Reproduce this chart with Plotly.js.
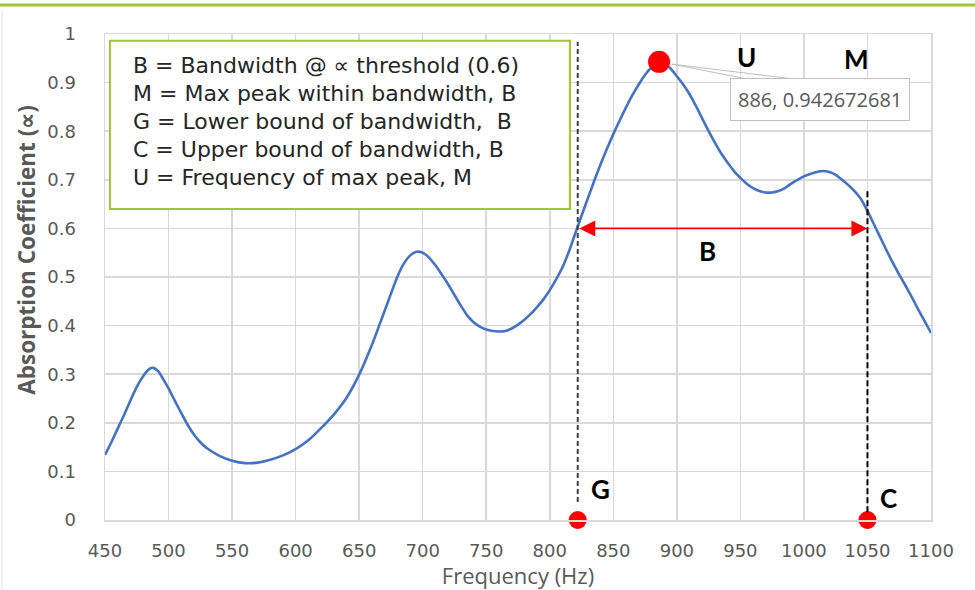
<!DOCTYPE html>
<html>
<head>
<meta charset="utf-8">
<script src="https://cdn.plot.ly/plotly-3.0.1.min.js"></script>
<style>html,body{margin:0;padding:0;background:#fff;}#chart{width:975px;height:590px;}</style>
</head>
<body>
<div id="chart"></div>
<script>
// Absorption coefficient curve
const frequency = [450,455,460,465,470,475,480,485,488,492,496,500,505,510,515,520,525,530,540,550,560,570,580,590,600,610,620,630,640,650,660,670,680,685,690,695,700,705,710,715,720,725,730,735,740,745,750,755,760,765,770,775,780,785,790,795,800,805,810,815,820,825,830,835,840,845,850,855,860,865,870,875,880,886,890,895,900,905,910,915,920,925,930,935,940,945,950,955,960,965,970,975,980,985,990,995,1000,1005,1010,1015,1020,1025,1030,1035,1040,1045,1050,1055,1060,1065,1070,1075,1080,1085,1090,1095,1100];
const absorption = [0.134,0.160,0.188,0.216,0.246,0.274,0.296,0.311,0.313,0.306,0.289,0.271,0.245,0.220,0.196,0.176,0.160,0.148,0.132,0.122,0.117,0.118,0.124,0.133,0.146,0.164,0.189,0.217,0.251,0.299,0.360,0.430,0.500,0.527,0.544,0.552,0.550,0.540,0.524,0.505,0.485,0.463,0.441,0.421,0.407,0.398,0.392,0.389,0.388,0.389,0.394,0.402,0.412,0.424,0.438,0.454,0.473,0.495,0.520,0.552,0.589,0.626,0.662,0.698,0.732,0.764,0.794,0.822,0.849,0.874,0.896,0.916,0.931,0.942672681,0.939,0.929,0.913,0.896,0.876,0.852,0.826,0.800,0.776,0.754,0.735,0.718,0.704,0.692,0.683,0.677,0.674,0.674,0.677,0.683,0.692,0.700,0.707,0.712,0.716,0.718,0.716,0.710,0.700,0.689,0.676,0.660,0.636,0.609,0.582,0.555,0.529,0.505,0.482,0.458,0.433,0.409,0.385];

const threshold = 0.6;          // alpha threshold
const lowerBoundG = 822;        // G
const upperBoundC = 1050;       // C
const peakFreqU = 886;          // U
const peakValueM = 0.942672681; // M

const xTickVals = [450,500,550,600,650,700,750,800,850,900,950,1000,1050,1100];
const yTickVals = [0,0.1,0.2,0.3,0.4,0.5,0.6,0.7,0.8,0.9,1];
const yTickText = ['0','0.1','0.2','0.3','0.4','0.5','0.6','0.7','0.8','0.9','1'];

const legendLines = [
  'B = Bandwidth @ \u221D threshold (0.6)',
  'M = Max peak within bandwidth, B',
  'G = Lower bound of bandwidth,  B',
  'C = Upper bound of bandwidth, B',
  'U = Frequency of max peak, M'
];

const gray = '#595959';
const grid = '#d9d9d9';
const green = '#9dc82f';

const traces = [
  {x: frequency, y: absorption, type: 'scatter', mode: 'lines',
   line: {color: '#4472C4', width: 2.6, shape: 'spline', smoothing: 0.6}, hoverinfo: 'x+y'},
  {x: [peakFreqU], y: [peakValueM], type: 'scatter', mode: 'markers',
   marker: {color: '#FF0000', size: 22}},
  {x: [lowerBoundG, upperBoundC], y: [0, 0], type: 'scatter', mode: 'markers',
   marker: {color: '#FF0000', size: 18}, cliponaxis: false}
];

const annotations = [];
// legend box text
legendLines.forEach((t, i) => {
  annotations.push({x: 470.5, y: (520 - (65 + i * 28)) / 486, xref: 'x', yref: 'y',
    text: t, showarrow: false, xanchor: 'left', yanchor: 'middle',
    font: {family: 'DejaVu Sans', size: 22, color: '#262626'}});
});
// bandwidth arrow
annotations.push({x: upperBoundC, y: threshold, ax: lowerBoundG, ay: threshold,
  xref: 'x', yref: 'y', axref: 'x', ayref: 'y', text: '', showarrow: true,
  arrowside: 'end+start', arrowhead: 2, arrowsize: 2, arrowwidth: 1.6, arrowcolor: '#FF0000', standoff: 0, startstandoff: 0});
// peak data label
annotations.push({x: 1012.6, y: 0.866, xref: 'x', yref: 'y', text: peakFreqU + ', ' + peakValueM,
  showarrow: false, bgcolor: '#ffffff', bordercolor: '#bfbfbf', borderwidth: 1, borderpad: 7,
  font: {family: 'Open Sans', size: 20, color: gray}});
// letters
const bold = {family: 'Lato', size: 26, color: '#000000', weight: 'bold'};
annotations.push({x: 955.2, y: 0.953, xref: 'x', yref: 'y', text: '<b>U</b>', showarrow: false, font: bold});
annotations.push({x: 1041, y: 0.949, xref: 'x', yref: 'y', text: '<b>M</b>', showarrow: false, font: bold});
annotations.push({x: 924.5, y: 0.553, xref: 'x', yref: 'y', text: '<b>B</b>', showarrow: false, font: bold});
annotations.push({x: 840.3, y: 0.064, xref: 'x', yref: 'y', text: '<b>G</b>', showarrow: false, font: bold});
annotations.push({x: 1066.2, y: 0.045, xref: 'x', yref: 'y', text: '<b>C</b>', showarrow: false, font: bold});
// y-axis title (placed like the reference, slightly above centre)
annotations.push({x: -0.095, y: 0.555, xref: 'paper', yref: 'paper', text: '<b>Absorption Coefficient (\u221D)</b>',
  textangle: -90, showarrow: false, xanchor: 'center', yanchor: 'middle',
  font: {family: 'Open Sans', size: 22.5, color: gray}});

const shapes = [
  // top green rule
  {type: 'line', xref: 'paper', yref: 'paper', x0: -0.13, x1: 1.06, y0: 1.0597, y1: 1.0597,
   line: {color: green, width: 3}},
  // faint left border
  {type: 'line', xref: 'paper', yref: 'paper', x0: -0.1247, x1: -0.1247, y0: 1.05, y1: -0.15,
   line: {color: '#e3e3e3', width: 1}},
  // legend box
  {type: 'rect', xref: 'x', yref: 'y', x0: 453.9, x1: 815.9, y0: 0.640, y1: 0.986,
   line: {color: green, width: 2}, fillcolor: '#ffffff'},
  // G dashed
  {type: 'line', xref: 'x', yref: 'y', x0: lowerBoundG, x1: lowerBoundG, y0: 0.037, y1: 0.984,
   line: {color: '#404040', width: 2, dash: '5px,3px'}},
  // C dashed
  {type: 'line', xref: 'x', yref: 'y', x0: upperBoundC, x1: upperBoundC, y0: 0.016, y1: 0.679,
   line: {color: '#000000', width: 2, dash: '6px,3px'}},
  // leader line to label
  {type: 'path', xref: 'x', yref: 'y', path: 'M 896.2 0.938 L 959.9 0.905 M 896.2 0.938 L 999.3 0.905',
   line: {color: '#bfbfbf', width: 1}}
];

const layout = {
  width: 975, height: 590,
  margin: {l: 105, r: 44, t: 34, b: 70},
  paper_bgcolor: '#ffffff', plot_bgcolor: '#ffffff',
  showlegend: false,
  xaxis: {range: [450, 1100], tickvals: xTickVals, showgrid: true, gridcolor: grid, gridwidth: 1.5,
    zeroline: false, showline: true, linecolor: grid, linewidth: 1.5, mirror: true,
    ticks: '', ticklabelstandoff: 14,
    tickfont: {family: 'DejaVu Sans', size: 18, color: gray},
    title: {text: 'Frequency (Hz)', standoff: 6, font: {family: 'Open Sans', size: 22, color: gray}}},
  yaxis: {range: [0, 1], tickvals: yTickVals, ticktext: yTickText, showgrid: true, gridcolor: grid, gridwidth: 1.5,
    zeroline: false, showline: true, linecolor: grid, linewidth: 1.5, mirror: true,
    ticks: '', ticklabelstandoff: 24,
    tickfont: {family: 'DejaVu Sans', size: 18, color: gray}},
  annotations: annotations,
  shapes: shapes
};

Plotly.newPlot('chart', traces, layout, {displayModeBar: false, staticPlot: true});
</script>
</body>
</html>
